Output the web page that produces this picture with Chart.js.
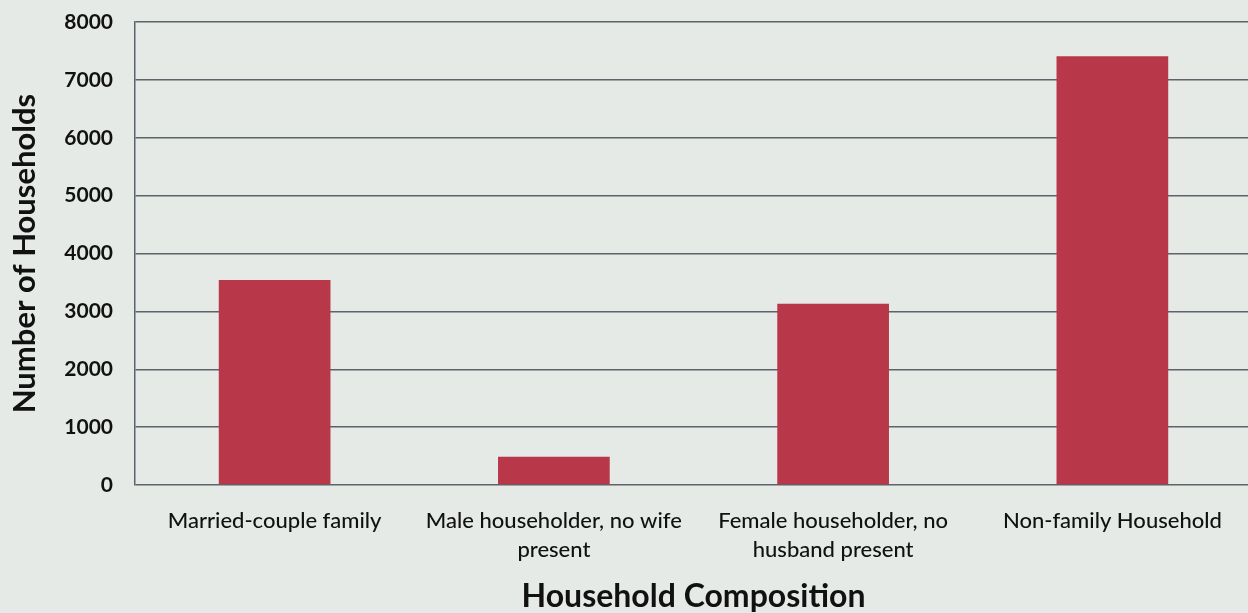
<!DOCTYPE html>
<html><head><meta charset="utf-8">
<script src="https://cdn.jsdelivr.net/npm/chart.js@4/dist/chart.umd.min.js"></script>
<style>
html,body{margin:0;padding:0;background:#e5eae7;overflow:hidden;}
#wrap{width:1252px;height:613px;position:relative;}
</style></head><body>
<div id="wrap"><canvas id="c"></canvas></div>
<script>
const categories = [["Married-couple family"],["Male householder, no wife","present"],["Female householder, no","husband present"],["Non-family Household"]];
const households = [3540, 490, 3130, 7410];
const yTicks = [0,1000,2000,3000,4000,5000,6000,7000,8000];

new Chart(document.getElementById('c'), {
  type: 'bar',
  data: { labels: categories, datasets: [{ data: households, backgroundColor: '#b83749', barPercentage: 0.4, categoryPercentage: 1.0 }] },
  options: {
    responsive: true, maintainAspectRatio: false, animation: false,
    layout: { padding: { top: 22, left: 6, right: 0, bottom: 0 } },
    plugins: { legend: { display: false }, tooltip: { enabled: false } },
    scales: {
      x: {
        grid: { display: false, drawTicks: false },
        border: { display: false },
        ticks: { color: '#111', font: { family: 'Lato', size: 22, weight: '500', lineHeight: 1.3 }, padding: 22, maxRotation: 0, autoSkip: false },
        title: { display: true, text: 'Household Composition', color: '#111', font: { family: 'Lato', size: 32, weight: 'bold', lineHeight: 1.0 }, padding: { top: 16, bottom: 0 } },
        afterFit: s => { s.height = 128; }
      },
      y: {
        min: 0, max: 8000,
        afterBuildTicks: s => { s.ticks = yTicks.map(v => ({ value: v })); },
        grid: { color: '#5d636a', lineWidth: 1.5, drawTicks: false },
        border: { display: true, color: '#5d636a', width: 1.5 },
        ticks: { color: '#111', font: { family: 'Lato', size: 21, weight: 'bold' }, padding: 22, callback: v => String(v) },
        title: { display: true, text: 'Number of Households', color: '#111', font: { family: 'Lato', size: 31, weight: 'bold' }, padding: { top: 0, bottom: 4 } },
        afterFit: s => { s.width = 129; s.paddingTop = 0; s.paddingBottom = 0; }
      }
    }
  }
});
</script></body></html>
